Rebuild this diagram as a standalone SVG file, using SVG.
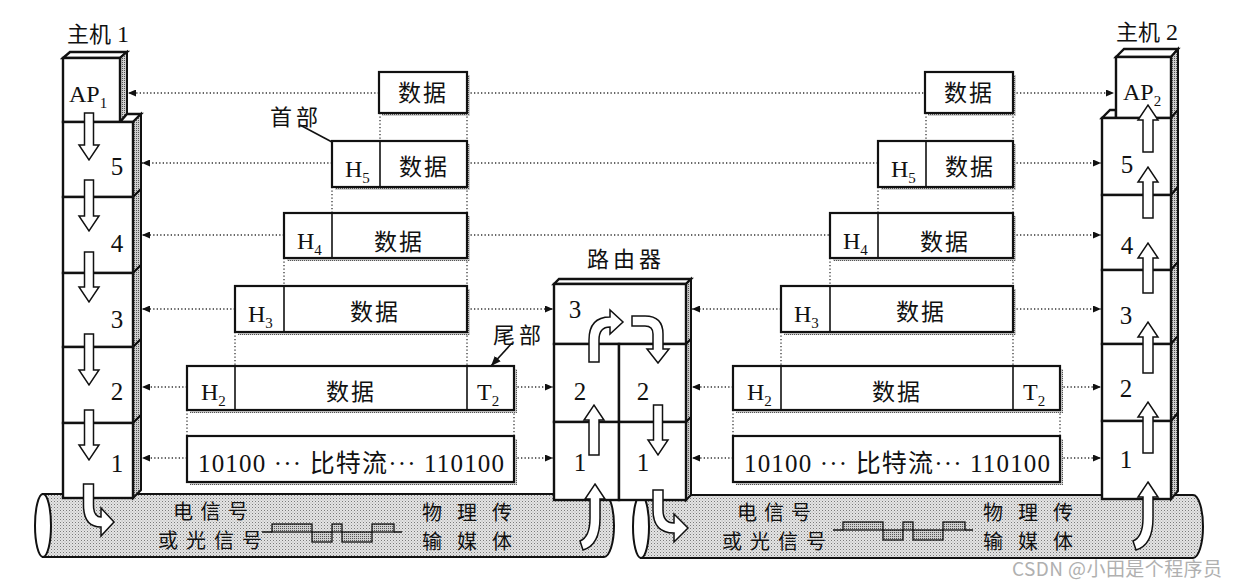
<svg xmlns="http://www.w3.org/2000/svg" width="1238" height="588" viewBox="0 0 1238 588">
<defs>
<pattern id="texL" width="3" height="3" patternUnits="userSpaceOnUse"><rect width="3" height="3" fill="#e4e4e4"/><rect width="1" height="1" fill="#7a7a7a"/><rect x="1.5" y="1.5" width="1" height="1" fill="#a8a8a8"/></pattern>
<pattern id="texD" width="2" height="2" patternUnits="userSpaceOnUse"><rect width="2" height="2" fill="#cfcfcf"/><rect width="1" height="1" fill="#555"/></pattern>
<marker id="dot" markerUnits="userSpaceOnUse" markerWidth="8" markerHeight="7" refX="8" refY="3.5" orient="auto"><path d="M0,0 L8,3.5 L0,7 z" fill="#111"/></marker>
<marker id="sol" markerUnits="userSpaceOnUse" markerWidth="10" markerHeight="8" refX="10" refY="4" orient="auto"><path d="M0,0 L10,4 L0,8 z" fill="#111"/></marker>
</defs>
<style>
.box{fill:#fff;stroke:#111;stroke-width:2.2}
.shd{fill:url(#texD)}
.side{fill:url(#texD);stroke:#111;stroke-width:2}
.blk{fill:#fff;stroke:#111;stroke-width:2.4}
.div{stroke:#111;stroke-width:1.6}
.arr{fill:#fff;stroke:#111;stroke-width:1.5;stroke-linejoin:miter}
.dl{stroke:#333;stroke-width:1.3;stroke-dasharray:1.3 2.2;fill:none}
.pipe{fill:url(#texL);stroke:#111;stroke-width:2}
.wave{fill:url(#texD);stroke:#111;stroke-width:1.3}
.cn{font-family:"Noto Sans CJK SC",sans-serif;fill:#111}
.lt{font-family:"Liberation Serif","Noto Sans CJK SC",serif;fill:#111}
</style>
<rect width="1238" height="588" fill="#fff"/>

<g id="pipes">
<path class="pipe" d="M43 494 L604 494 A10 31.5 0 0 1 604 557 L43 557 Z"/>
<ellipse cx="43" cy="525.5" rx="8" ry="31.5" fill="#fff" stroke="#111" stroke-width="2"/>
<path class="pipe" d="M641 495 L1193 495 A10 31.5 0 0 1 1193 558 L641 558 Z"/>
<ellipse cx="641" cy="526.5" rx="8" ry="31.5" fill="#fff" stroke="#111" stroke-width="2"/>
<g id="signal1">
<text class="cn" x="173" y="519" font-size="20" textLength="75" lengthAdjust="spacing">电信号</text>
<text class="cn" x="158" y="548" font-size="20" textLength="104" lengthAdjust="spacing">或光信号</text>
<path d="M262 532 L272 532 M394 532 L402 532" stroke="#111" stroke-width="1.5"/>
<rect class="wave" x="272" y="524" width="40" height="8"/>
<rect class="wave" x="312" y="532" width="20" height="10"/>
<rect class="wave" x="332" y="524" width="10" height="8"/>
<rect class="wave" x="342" y="532" width="30" height="10"/>
<rect class="wave" x="372" y="524" width="22" height="8"/>
<text class="cn" x="422" y="520" font-size="20" textLength="90" lengthAdjust="spacing">物理传</text>
<text class="cn" x="422" y="549" font-size="20" textLength="90" lengthAdjust="spacing">输媒体</text>
</g>
<g id="signal2">
<text class="cn" x="737" y="520" font-size="20" textLength="74" lengthAdjust="spacing">电信号</text>
<text class="cn" x="722" y="549" font-size="20" textLength="104" lengthAdjust="spacing">或光信号</text>
<path d="M833 530 L843 530 M965 530 L973 530" stroke="#111" stroke-width="1.5"/>
<rect class="wave" x="843" y="522" width="40" height="8"/>
<rect class="wave" x="883" y="530" width="20" height="10"/>
<rect class="wave" x="903" y="522" width="10" height="8"/>
<rect class="wave" x="913" y="530" width="30" height="10"/>
<rect class="wave" x="943" y="522" width="22" height="8"/>
<text class="cn" x="983" y="520" font-size="20" textLength="90" lengthAdjust="spacing">物理传</text>
<text class="cn" x="983" y="549" font-size="20" textLength="90" lengthAdjust="spacing">输媒体</text>
</g>
</g>

<g id="host1">
<text class="cn" x="67" y="42" font-size="22">主机<tspan class="lt" font-size="24"> 1</tspan></text>
<polygon class="blk" points="63,58 70,52 127,52 120,58"/>
<polygon class="side" points="120,58 127,52 127,114 120,122"/>
<rect class="blk" x="63" y="58" width="57" height="64"/>
<text class="lt" x="69" y="102" font-size="24">AP<tspan font-size="15" dy="6">1</tspan></text>
<polygon class="blk" points="120,122 127,114 141,114 133,122"/>
<polygon class="side" points="133,122 141,114 141,189 133,197"/>
<polygon class="side" points="133,197 141,189 141,265 133,273"/>
<polygon class="side" points="133,273 141,265 141,339 133,347"/>
<polygon class="side" points="133,347 141,339 141,415 133,423"/>
<polygon class="side" points="133,423 141,415 141,490 133,498"/>
<rect class="blk" x="63" y="122" width="70" height="75"/>
<rect class="blk" x="63" y="197" width="70" height="76"/>
<rect class="blk" x="63" y="273" width="70" height="74"/>
<rect class="blk" x="63" y="347" width="70" height="76"/>
<rect class="blk" x="63" y="423" width="70" height="75"/>
<g class="lt" font-size="25" text-anchor="middle">
<text x="117" y="175">5</text><text x="117" y="252">4</text><text x="117" y="328">3</text><text x="117" y="400">2</text><text x="117" y="472">1</text>
</g>
<polygon class="arr" points="84.5,113 93.5,113 93.5,145 99,145 89,160 79,145 84.5,145"/>
<polygon class="arr" points="84.5,180 93.5,180 93.5,216 99,216 89,231 79,216 84.5,216"/>
<polygon class="arr" points="84.5,252 93.5,252 93.5,287 99,287 89,302 79,287 84.5,287"/>
<polygon class="arr" points="84.5,334 93.5,334 93.5,370 99,370 89,385 79,370 84.5,370"/>
<polygon class="arr" points="84.5,410 93.5,410 93.5,445 99,445 89,460 79,445 84.5,445"/>
<path class="arr" d="M83.5 484 L93.5 484 L93.5 505 Q93.5 517 101 517 L101 508 L114 522 L101 536 L101 527 Q83.5 527 83.5 505 Z"/>
</g>

<g id="host2">
<text class="cn" x="1116" y="40" font-size="22">主机<tspan class="lt" font-size="24"> 2</tspan></text>
<polygon class="blk" points="1116,57 1124,49 1178,49 1171,57"/>
<polygon class="side" points="1171,57 1178,49 1178,110 1171,118"/>
<polygon class="blk" points="1102,118 1110,110 1116,110 1116,118"/>
<rect class="blk" x="1116" y="57" width="55" height="61"/>
<text class="lt" x="1123" y="100" font-size="24">AP<tspan font-size="15" dy="6">2</tspan></text>
<polygon class="side" points="1171,118 1178,110 1178,187 1171,195"/>
<polygon class="side" points="1171,195 1178,187 1178,262 1171,270"/>
<polygon class="side" points="1171,270 1178,262 1178,336 1171,344"/>
<polygon class="side" points="1171,344 1178,336 1178,413 1171,421"/>
<polygon class="side" points="1171,421 1178,413 1178,491 1171,499"/>
<rect class="blk" x="1102" y="118" width="69" height="77"/>
<rect class="blk" x="1102" y="195" width="69" height="75"/>
<rect class="blk" x="1102" y="270" width="69" height="74"/>
<rect class="blk" x="1102" y="344" width="69" height="77"/>
<rect class="blk" x="1102" y="421" width="69" height="78"/>
<g class="lt" font-size="25" text-anchor="middle">
<text x="1127" y="173">5</text><text x="1127" y="254">4</text><text x="1126" y="324">3</text><text x="1126" y="397">2</text><text x="1126" y="468">1</text>
</g>
<polygon class="arr" points="1143,152 1153,152 1153,120 1158,120 1148,105 1138,120 1143,120"/>
<polygon class="arr" points="1143,218 1153,218 1153,182 1158,182 1148,167 1138,182 1143,182"/>
<polygon class="arr" points="1143,293 1153,293 1153,258 1158,258 1148,243 1138,258 1143,258"/>
<polygon class="arr" points="1143,373 1153,373 1153,337 1158,337 1148,322 1138,337 1143,337"/>
<polygon class="arr" points="1143,453 1153,453 1153,417 1158,417 1148,402 1138,417 1143,417"/>
<path class="arr" d="M1148 482 L1158 497 L1153 497 L1153 518 Q1153 545 1136 550 L1133 541 Q1143 537 1143 518 L1143 497 L1138 497 Z"/>
</g>

<g id="router">
<text class="cn" x="626" y="267" font-size="22" letter-spacing="4" text-anchor="middle">路由器</text>
<polygon class="blk" points="554,284 559,279 691,279 686,284"/>
<polygon class="side" points="686,284 691,279 691,339 686,344"/>
<polygon class="side" points="686,344 691,339 691,417 686,422"/>
<polygon class="side" points="686,422 691,417 691,495 686,500"/>
<rect class="blk" x="554" y="284" width="132" height="60"/>
<rect class="blk" x="554" y="344" width="65" height="78"/>
<rect class="blk" x="619" y="344" width="67" height="78"/>
<rect class="blk" x="554" y="422" width="65" height="78"/>
<rect class="blk" x="619" y="422" width="67" height="78"/>
<g class="lt" font-size="25" text-anchor="middle">
<text x="575" y="318">3</text><text x="580" y="400">2</text><text x="643" y="400">2</text><text x="580" y="471">1</text><text x="643" y="471">1</text>
</g>
<path class="arr" d="M595 484 L605 499 L600 499 L600 518 Q600 545 583 550 L580 541 Q590 537 590 518 L590 499 L585 499 Z"/>
<polygon class="arr" points="589,455 599,455 599,420 604,420 594,405 584,420 589,420"/>
<path class="arr" d="M589 362 L589 340 Q589 317 610 317 L610 310 L623 322 L610 334 L610 327 Q599 327 599 340 L599 362 Z"/>
<path class="arr" d="M632 316 L645 316 Q663 316 663 334 L663 349 L669 349 L658 363 L647 349 L653 349 L653 334 Q653 326 645 326 L632 326 Z"/>
<polygon class="arr" points="653.5,405 662.5,405 662.5,440 668,440 658,455 648,440 653.5,440"/>
<path class="arr" d="M653 490 L663 490 L663 510 Q663 523 674 523 L674 514 L688 528 L674 542 L674 533 Q653 533 653 510 Z"/>
</g>

<g id="connectors">
<line class="dl" x1="379" y1="93" x2="128" y2="93" marker-end="url(#dot)"/>
<line class="dl" x1="332" y1="163" x2="142" y2="163" marker-end="url(#dot)"/>
<line class="dl" x1="284" y1="235" x2="142" y2="235" marker-end="url(#dot)"/>
<line class="dl" x1="235" y1="309" x2="142" y2="309" marker-end="url(#dot)"/>
<line class="dl" x1="187" y1="387" x2="142" y2="387" marker-end="url(#dot)"/>
<line class="dl" x1="187" y1="458" x2="142" y2="458" marker-end="url(#dot)"/>
<line class="dl" x1="467" y1="93" x2="925" y2="93"/>
<line class="dl" x1="1013" y1="93" x2="1114" y2="93" marker-end="url(#dot)"/>
<line class="dl" x1="467" y1="163" x2="878" y2="163"/>
<line class="dl" x1="1013" y1="163" x2="1101" y2="163" marker-end="url(#dot)"/>
<line class="dl" x1="467" y1="235" x2="830" y2="235"/>
<line class="dl" x1="1013" y1="235" x2="1101" y2="235" marker-end="url(#dot)"/>
<line class="dl" x1="467" y1="309" x2="553" y2="309" marker-end="url(#dot)"/>
<line class="dl" x1="781" y1="309" x2="692" y2="309" marker-end="url(#dot)"/>
<line class="dl" x1="1013" y1="309" x2="1101" y2="309" marker-end="url(#dot)"/>
<line class="dl" x1="514" y1="387" x2="553" y2="387" marker-end="url(#dot)"/>
<line class="dl" x1="733" y1="387" x2="692" y2="387" marker-end="url(#dot)"/>
<line class="dl" x1="1060" y1="387" x2="1101" y2="387" marker-end="url(#dot)"/>
<line class="dl" x1="514" y1="458" x2="553" y2="458" marker-end="url(#dot)"/>
<line class="dl" x1="733" y1="458" x2="692" y2="458" marker-end="url(#dot)"/>
<line class="dl" x1="1060" y1="458" x2="1101" y2="458" marker-end="url(#dot)"/>
<path class="dl" d="M380 113 V141 M467 113 V141 M332 187 V213 M467 187 V213 M284 258 V286 M467 258 V286 M235 332 V366 M467 332 V366 M187 410 V436 M514 410 V436"/>
<path class="dl" d="M926 113 V141 M1013 113 V141 M878 187 V213 M1013 187 V213 M830 258 V286 M1013 258 V286 M781 332 V366 M1013 332 V366 M733 410 V436 M1060 410 V436"/>
<line x1="300" y1="125" x2="347" y2="150" stroke="#111" stroke-width="1.6" marker-end="url(#sol)"/>
<line x1="512" y1="343" x2="491" y2="366" stroke="#111" stroke-width="1.6" marker-end="url(#sol)"/>
</g>

<g id="labels">
<text class="cn" x="270" y="125" font-size="22" letter-spacing="4">首部</text>
<text class="cn" x="493" y="343" font-size="22" letter-spacing="4">尾部</text>
</g>

<g id="pdu-left">
<g id="l-ap"><rect class="shd" x="382" y="75" width="88" height="41"/><rect class="box" x="379" y="72" width="88" height="41"/><text class="cn" x="423" y="101" font-size="23" letter-spacing="2" text-anchor="middle">数据</text></g>
<g id="l-5"><rect class="shd" x="335" y="144" width="135" height="46"/><rect class="box" x="332" y="141" width="135" height="46"/><line class="div" x1="380" y1="141" x2="380" y2="187"/><text class="lt" x="345" y="177" font-size="24">H<tspan font-size="15" dy="6">5</tspan></text><text class="cn" x="424" y="175" font-size="23" letter-spacing="2" text-anchor="middle">数据</text></g>
<g id="l-4"><rect class="shd" x="287" y="216" width="183" height="45"/><rect class="box" x="284" y="213" width="183" height="45"/><line class="div" x1="332" y1="213" x2="332" y2="258"/><text class="lt" x="297" y="249" font-size="24">H<tspan font-size="15" dy="6">4</tspan></text><text class="cn" x="399" y="250" font-size="23" letter-spacing="2" text-anchor="middle">数据</text></g>
<g id="l-3"><rect class="shd" x="238" y="289" width="232" height="46"/><rect class="box" x="235" y="286" width="232" height="46"/><line class="div" x1="284" y1="286" x2="284" y2="332"/><text class="lt" x="248" y="322" font-size="24">H<tspan font-size="15" dy="6">3</tspan></text><text class="cn" x="375" y="320" font-size="23" letter-spacing="2" text-anchor="middle">数据</text></g>
<g id="l-2"><rect class="shd" x="190" y="369" width="327" height="44"/><rect class="box" x="187" y="366" width="327" height="44"/><line class="div" x1="235" y1="366" x2="235" y2="410"/><line class="div" x1="467" y1="366" x2="467" y2="410"/><text class="lt" x="201" y="400" font-size="24">H<tspan font-size="15" dy="6">2</tspan></text><text class="cn" x="351" y="400" font-size="23" letter-spacing="2" text-anchor="middle">数据</text><text class="lt" x="477" y="400" font-size="24">T<tspan font-size="15" dy="6">2</tspan></text></g>
<g id="l-1"><rect class="shd" x="190" y="439" width="327" height="46"/><rect class="box" x="187" y="436" width="327" height="46"/><text class="lt" x="198" y="472" font-size="25" textLength="306" lengthAdjust="spacing">10100 ··· 比特流··· 110100</text></g>
</g>

<g id="pdu-right">
<g id="r-ap"><rect class="shd" x="928" y="75" width="88" height="41"/><rect class="box" x="925" y="72" width="88" height="41"/><text class="cn" x="969" y="101" font-size="23" letter-spacing="2" text-anchor="middle">数据</text></g>
<g id="r-5"><rect class="shd" x="881" y="144" width="135" height="46"/><rect class="box" x="878" y="141" width="135" height="46"/><line class="div" x1="926" y1="141" x2="926" y2="187"/><text class="lt" x="891" y="177" font-size="24">H<tspan font-size="15" dy="6">5</tspan></text><text class="cn" x="970" y="175" font-size="23" letter-spacing="2" text-anchor="middle">数据</text></g>
<g id="r-4"><rect class="shd" x="833" y="216" width="183" height="45"/><rect class="box" x="830" y="213" width="183" height="45"/><line class="div" x1="878" y1="213" x2="878" y2="258"/><text class="lt" x="843" y="249" font-size="24">H<tspan font-size="15" dy="6">4</tspan></text><text class="cn" x="945" y="250" font-size="23" letter-spacing="2" text-anchor="middle">数据</text></g>
<g id="r-3"><rect class="shd" x="784" y="289" width="232" height="46"/><rect class="box" x="781" y="286" width="232" height="46"/><line class="div" x1="830" y1="286" x2="830" y2="332"/><text class="lt" x="794" y="322" font-size="24">H<tspan font-size="15" dy="6">3</tspan></text><text class="cn" x="921" y="320" font-size="23" letter-spacing="2" text-anchor="middle">数据</text></g>
<g id="r-2"><rect class="shd" x="736" y="369" width="327" height="44"/><rect class="box" x="733" y="366" width="327" height="44"/><line class="div" x1="781" y1="366" x2="781" y2="410"/><line class="div" x1="1013" y1="366" x2="1013" y2="410"/><text class="lt" x="747" y="400" font-size="24">H<tspan font-size="15" dy="6">2</tspan></text><text class="cn" x="897" y="400" font-size="23" letter-spacing="2" text-anchor="middle">数据</text><text class="lt" x="1023" y="400" font-size="24">T<tspan font-size="15" dy="6">2</tspan></text></g>
<g id="r-1"><rect class="shd" x="736" y="439" width="327" height="46"/><rect class="box" x="733" y="436" width="327" height="46"/><text class="lt" x="744" y="472" font-size="25" textLength="306" lengthAdjust="spacing">10100 ··· 比特流··· 110100</text></g>
</g>

<text id="watermark" x="1012" y="576" font-family="Noto Sans CJK SC, sans-serif" font-size="19" fill="#b0b0b0" textLength="210" lengthAdjust="spacing">CSDN @小田是个程序员</text>
</svg>
